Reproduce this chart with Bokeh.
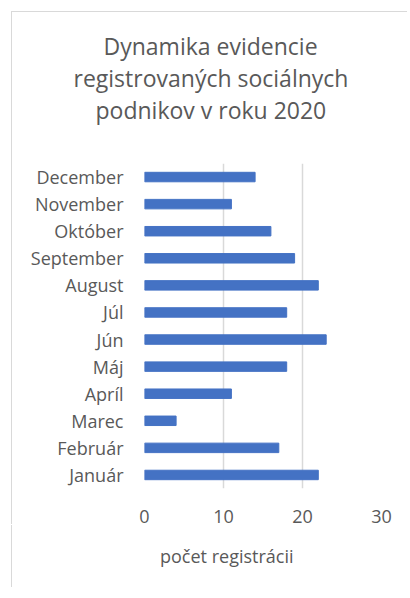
from bokeh.plotting import figure
from bokeh.models import FactorRange, Range1d, FixedTicker, Legend, LegendItem, Title
from bokeh.layouts import column
from bokeh.embed import file_html
from bokeh.resources import INLINE

months = ["Január", "Február", "Marec", "Apríl", "Máj", "Jún", "Júl",
          "August", "September", "Október", "November", "December"]
values = [22, 17, 4, 11, 18, 23, 18, 22, 19, 16, 11, 14]
x_ticks = [0, 10, 20, 30]
series_name = "počet registrácii"
title_lines = ["Dynamika evidencie", "registrovaných sociálnych", "podnikov v roku 2020"]

FONT = "Open Sans"
GREY = "#595959"
BAR = "#4472C4"

p = figure(width=396, height=523, frame_width=237, frame_height=325,
           y_range=FactorRange(factors=months),
           x_range=Range1d(0, 30),
           output_backend="svg", toolbar_location=None,
           min_border_left=132, min_border_right=27,
           min_border_top=151, min_border_bottom=0)
p.styles = {"box-shadow": "-1px -1px 0 0 #d9d9d9",
            "margin-left": "12px", "margin-top": "12px"}

r = p.hbar(y=months, right=values, left=0, height=0.35, color=BAR)

# spacer nearest the frame, then title lines 3, 2; line 1 is p.title (outermost)
spacer = Title(text=" ", text_font_size="1px", standoff=36)
p.add_layout(spacer, "above")
offsets = [-41, -71, -49]
titles = [p.title]
p.title.text = title_lines[0]
p.title.align = "left"
p.title.offset = offsets[0]
p.title.standoff = -2
for i in (2, 1):
    t = Title(text=title_lines[i], align="left", offset=offsets[i], standoff=-2)
    p.add_layout(t, "above")
    titles.append(t)
for t in titles:
    t.text_font = FONT
    t.text_font_size = "23px"
    t.text_font_style = "normal"
    t.text_color = GREY

p.outline_line_color = None
p.ygrid.grid_line_color = None
p.xgrid.grid_line_color = "#d9d9d9"
p.xgrid.grid_line_width = 1.5
p.xaxis.ticker = FixedTicker(ticks=x_ticks)

for ax in (p.xaxis, p.yaxis):
    ax.axis_line_color = None
    ax.major_tick_line_color = None
    ax.minor_tick_line_color = None
    ax.major_tick_out = 0
    ax.major_tick_in = 0
    ax.major_label_text_font = FONT
    ax.major_label_text_font_size = "18px"
    ax.major_label_text_color = GREY
    ax.major_label_standoff = 21

# legend strip below the chart
p2 = figure(width=396, height=62, frame_width=237, frame_height=62,
            x_range=Range1d(0, 1), y_range=Range1d(0, 1),
            x_axis_location=None, y_axis_location=None, title_location=None,
            output_backend="svg", toolbar_location=None,
            min_border_left=132, min_border_right=27,
            min_border_top=0, min_border_bottom=0)
p2.styles = {"box-shadow": "-1px 0 0 0 #d9d9d9", "margin-left": "12px"}
p2.grid.visible = False
p2.outline_line_color = None
r2 = p2.hbar(y=[], right=[], left=0, height=0.35, color=BAR)

leg = Legend(items=[LegendItem(label=series_name, renderers=[r2])],
             location="center_left", orientation="horizontal",
             border_line_color=None, background_fill_alpha=0,
             padding=0, margin=0, glyph_width=11, glyph_height=11,
             label_text_font=FONT, label_text_font_size="18px",
             label_text_color=GREY, label_standoff=5)
p2.add_layout(leg)

layout = column(p, p2, spacing=0)
open("out.html", "w").write(file_html(layout, INLINE))
